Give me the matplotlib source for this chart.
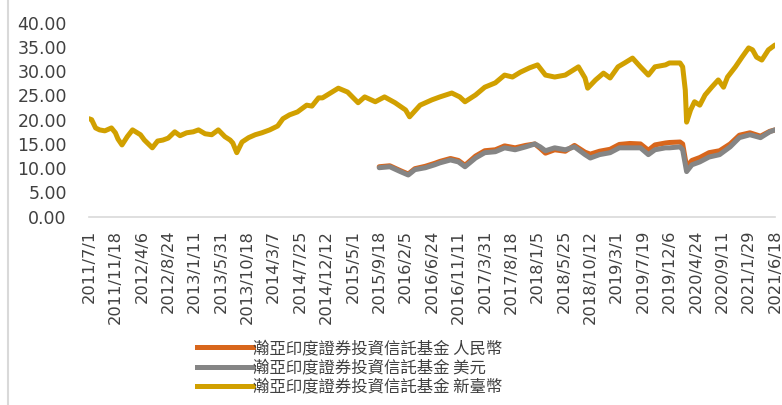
import matplotlib
matplotlib.use("Agg")
import matplotlib.pyplot as plt
from matplotlib.lines import Line2D

# weekly category axis: index 0 = 2011/7/1, one step = one week
tick_labels = [
    "2011/7/1", "2011/11/18", "2012/4/6", "2012/8/24", "2013/1/11", "2013/5/31",
    "2013/10/18", "2014/3/7", "2014/7/25", "2014/12/12", "2015/5/1", "2015/9/18",
    "2016/2/5", "2016/6/24", "2016/11/11", "2017/3/31", "2017/8/18", "2018/1/5",
    "2018/5/25", "2018/10/12", "2019/3/1", "2019/7/19", "2019/12/6", "2020/4/24",
    "2020/9/11", "2021/1/29", "2021/6/18",
]

# 新臺幣 class (week index, value)
twd_weeks = [0, 2, 5, 8, 12, 17, 20, 22, 25, 29, 33, 39, 42, 48, 52, 56, 60, 65,
             69, 74, 79, 83, 88, 93, 98, 103, 107, 109, 112, 116, 121, 126, 131,
             137, 143, 147, 152, 158, 165, 169, 174, 177, 183, 189, 196, 204, 209,
             217, 224, 232, 240, 243, 251, 260, 266, 275, 281, 285, 293, 300, 308,
             315, 321, 327, 334, 340, 346, 353, 361, 371, 376, 378, 384, 390, 395,
             401, 406, 412, 418, 424, 429, 437, 440, 448, 450, 452, 453, 456, 459,
             463, 467, 472, 477, 481, 484, 490, 495, 500, 503, 506, 510, 515, 520]
twd_values = [20.2, 20.0, 18.3, 17.9, 17.7, 18.3, 17.3, 16.0, 14.8, 16.5, 17.9,
              16.9, 15.8, 14.2, 15.6, 15.8, 16.2, 17.5, 16.7, 17.3, 17.5, 17.9,
              17.1, 16.9, 17.9, 16.5, 15.8, 15.2, 13.2, 15.4, 16.3, 16.9, 17.3,
              17.9, 18.7, 20.2, 21.0, 21.6, 23.0, 22.8, 24.5, 24.5, 25.5, 26.5,
              25.7, 23.5, 24.7, 23.7, 24.7, 23.5, 22.0, 20.6, 23.0, 24.1, 24.7,
              25.5, 24.7, 23.7, 25.1, 26.7, 27.6, 29.2, 28.8, 29.8, 30.7, 31.3,
              29.2, 28.8, 29.2, 30.9, 28.6, 26.5, 28.2, 29.6, 28.6, 30.9, 31.7,
              32.7, 30.9, 29.2, 30.9, 31.3, 31.7, 31.7, 30.9, 26.1, 19.5, 22.0,
              23.7, 23.0, 25.1, 26.7, 28.2, 26.7, 28.8, 30.9, 32.9, 34.8, 34.4,
              32.9, 32.3, 34.4, 35.4]

# 美元 and 人民幣 classes start 2015/9/18
usd_weeks = [220, 228, 236, 242, 247, 255, 262, 266, 274, 280, 285, 293, 300,
             308, 315, 323, 331, 338, 342, 346, 353, 361, 368, 376, 380, 387,
             395, 402, 410, 418, 424, 429, 437, 440, 448, 450, 453, 457, 463,
             470, 478, 486, 493, 501, 509, 516, 520]
usd_values = [10.1, 10.3, 9.3, 8.6, 9.7, 10.1, 10.7, 11.1, 11.7, 11.3, 10.3,
              12.1, 13.2, 13.4, 14.2, 13.8, 14.4, 15.0, 14.4, 13.6, 14.2, 13.8,
              14.4, 12.8, 12.1, 12.8, 13.2, 14.2, 14.2, 14.2, 12.8, 13.8, 14.2,
              14.2, 14.4, 13.8, 9.3, 10.7, 11.3, 12.3, 12.8, 14.4, 16.3, 16.9,
              16.3, 17.5, 17.9]
rmb_values = [10.3, 10.5, 9.5, 8.8, 9.9, 10.4, 11.0, 11.4, 12.0, 11.6, 10.6,
              12.5, 13.6, 13.8, 14.6, 14.2, 14.7, 15.0, 14.1, 13.1, 13.8, 13.5,
              14.7, 13.3, 12.9, 13.5, 13.9, 14.9, 15.1, 15.0, 13.7, 14.8, 15.2,
              15.3, 15.4, 15.0, 10.3, 11.6, 12.2, 13.2, 13.6, 15.0, 16.8, 17.3,
              16.6, 17.6, 17.9]

labels = ["瀚亞印度證券投資信託基金 人民幣",
          "瀚亞印度證券投資信託基金 美元",
          "瀚亞印度證券投資信託基金 新臺幣"]
colors = ["#D8661C", "#858585", "#D1A000"]

fig = plt.figure(figsize=(7.82, 4.05), dpi=100)
ax = fig.add_axes([89 / 782, 1 - 216.7 / 405, (775 - 89) / 782, (216.7 - 22.7) / 405])

lw = 3.6
ax.plot(usd_weeks, rmb_values, color=colors[0], lw=lw, solid_joinstyle="round",
        solid_capstyle="round")
ax.plot(usd_weeks, usd_values, color=colors[1], lw=lw, solid_joinstyle="round",
        solid_capstyle="round")
ax.plot(twd_weeks, twd_values, color=colors[2], lw=lw, solid_joinstyle="round",
        solid_capstyle="round")

ax.set_xlim(0, 520)
ax.set_ylim(0, 40)
ax.set_yticks(range(0, 41, 5))
ax.set_yticklabels([f"{v:.2f}" for v in range(0, 41, 5)])
ax.set_xticks(range(0, 521, 20))
ax.set_xticklabels(tick_labels, rotation=90, va="top", ha="center")

for s in ["top", "right", "left"]:
    ax.spines[s].set_visible(False)
ax.spines["bottom"].set_color("#D9D9D9")
ax.spines["bottom"].set_linewidth(1.2)
ax.tick_params(axis="y", length=0, pad=16, labelsize=12.5, labelcolor="#404040")
ax.tick_params(axis="x", length=0, pad=9.5, labelsize=11.7, labelcolor="#404040")

# frame edge of the original chart box
fig.add_artist(Line2D([8 / 782, 8 / 782], [0, 1], color="#D9D9D9", lw=1.5))

handles = [Line2D([], [], color=c, lw=lw) for c in colors]
fig.legend(handles, labels, loc="upper left", bbox_to_anchor=(189 / 782, 1 - 332 / 405),
           frameon=False, borderpad=0, handlelength=3.4, handletextpad=0.0,
           labelspacing=0.14, prop={"family": ["Noto Sans CJK TC", "DejaVu Sans"],
                                    "size": 11.8}, labelcolor="#404040")

fig.savefig("out.png", dpi=100)
